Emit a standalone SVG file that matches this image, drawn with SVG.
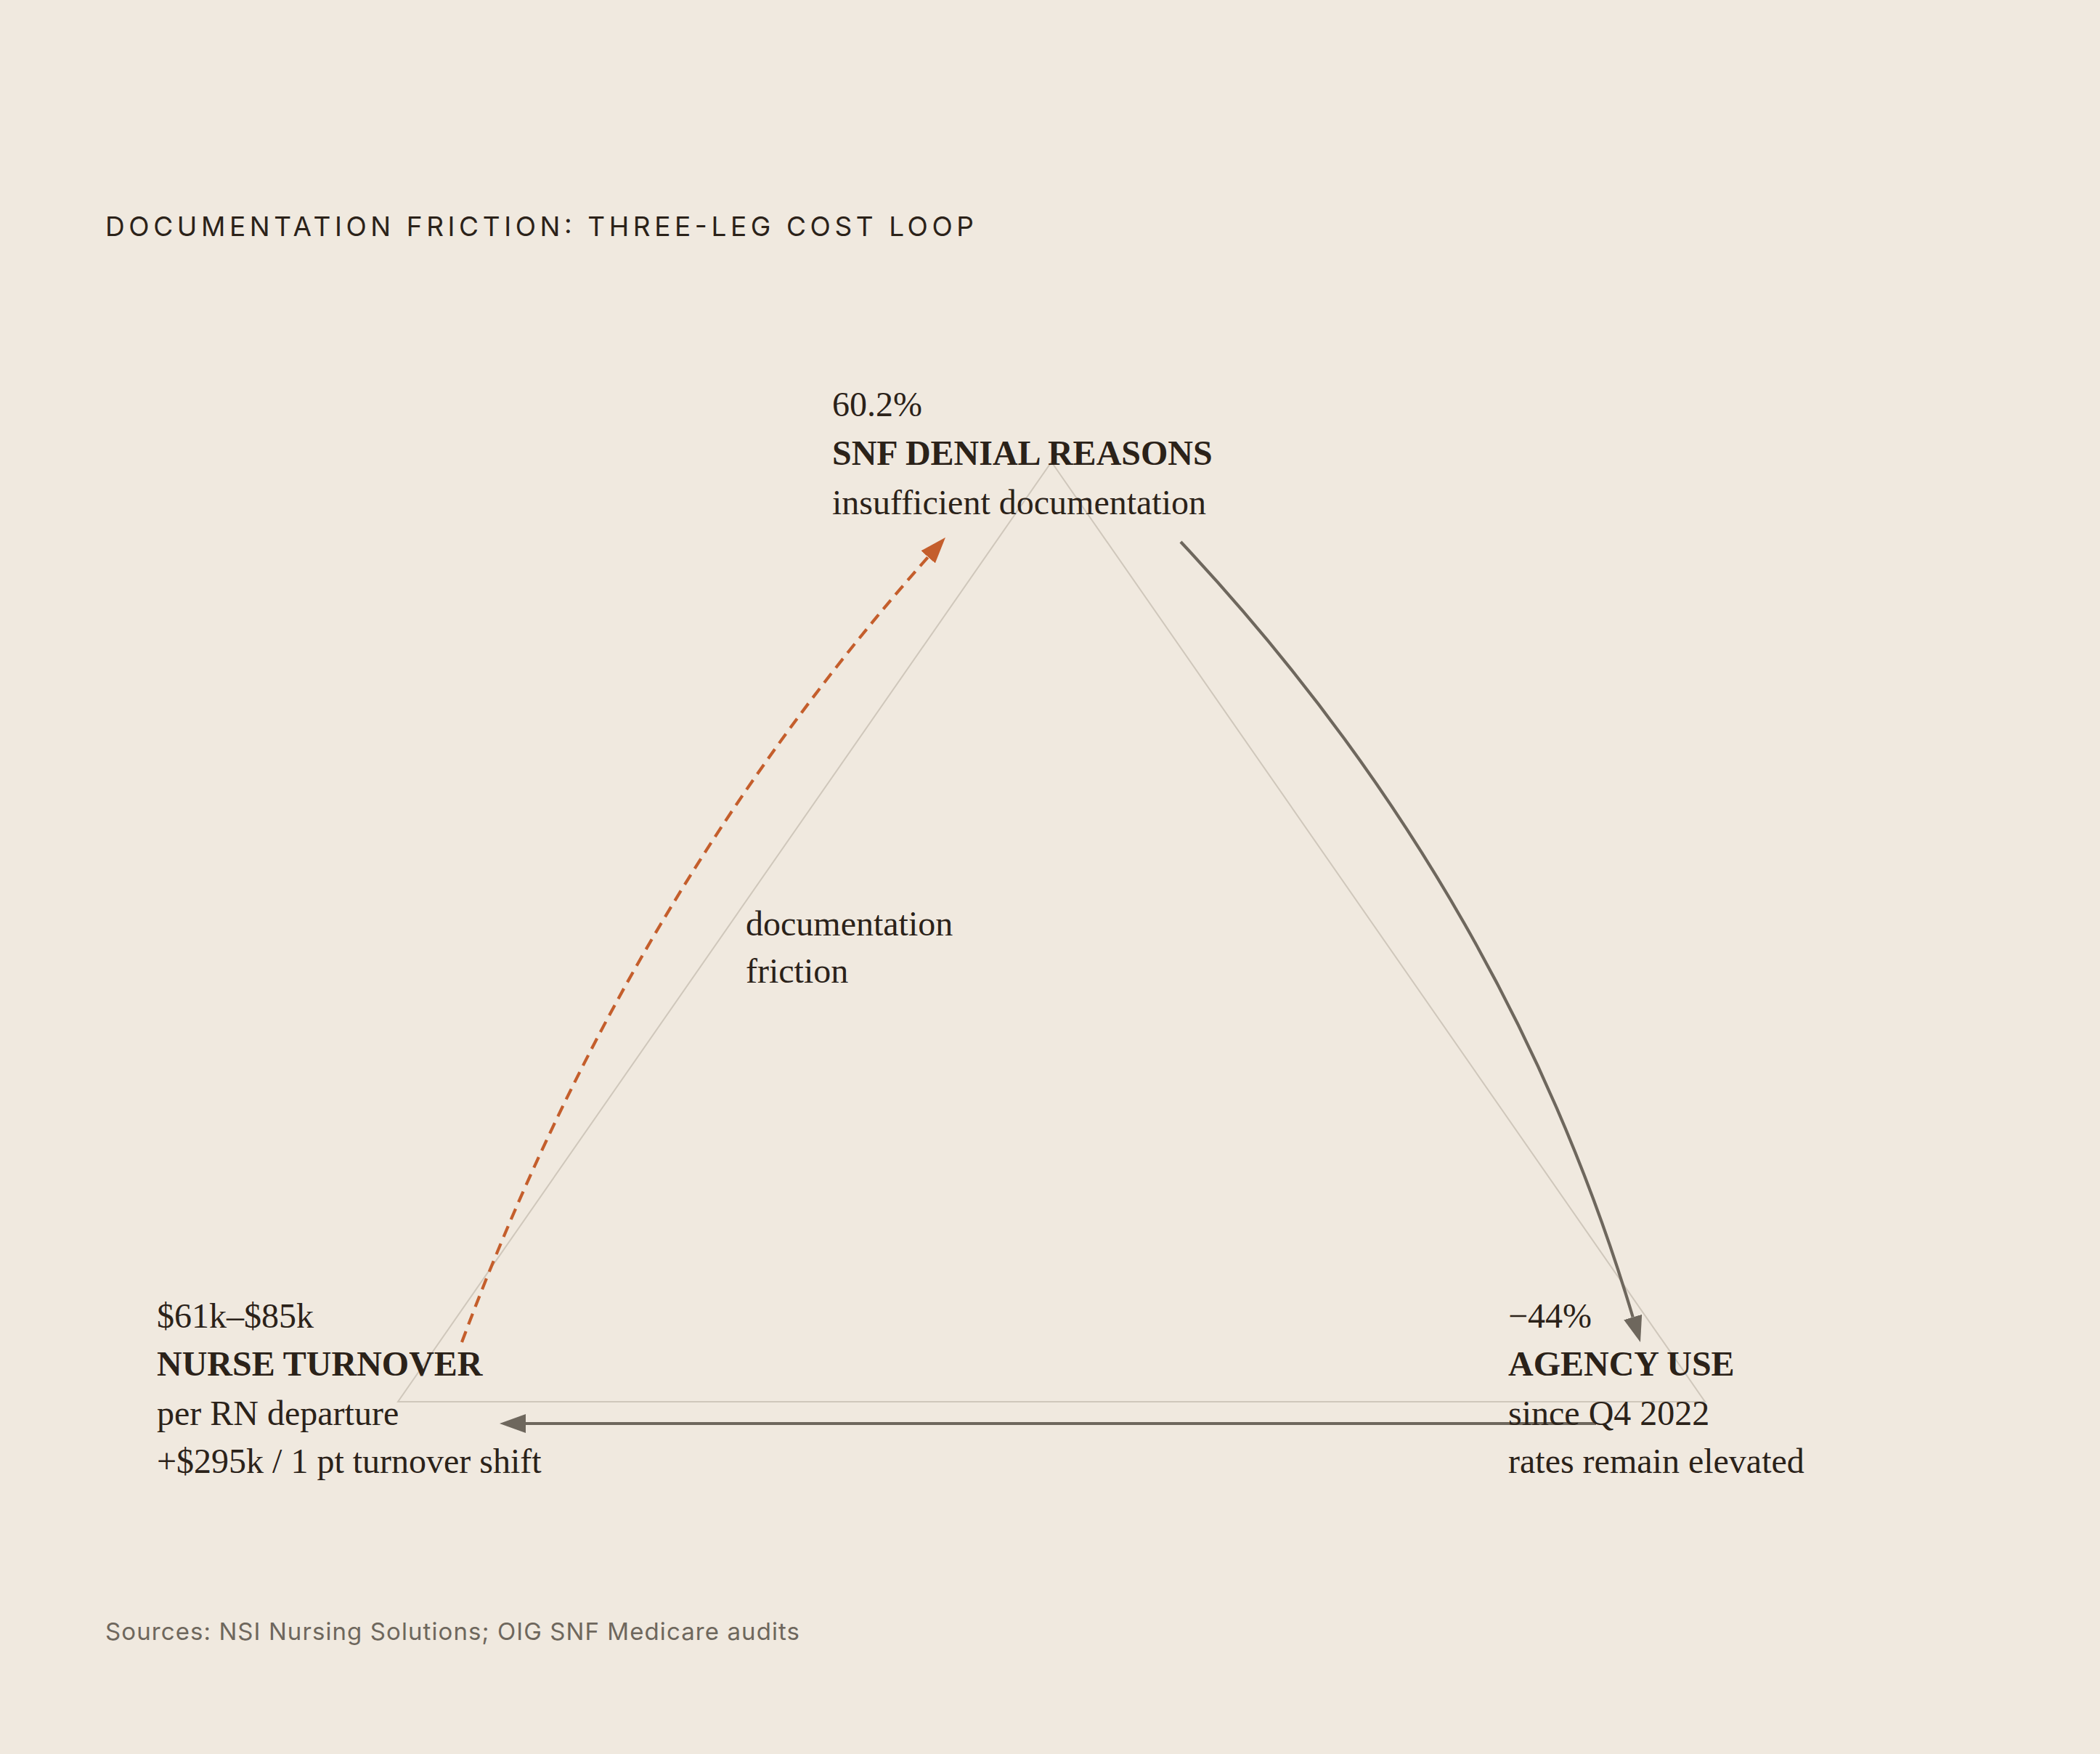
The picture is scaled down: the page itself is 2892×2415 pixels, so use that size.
<svg xmlns="http://www.w3.org/2000/svg" width="2892" height="2415" viewBox="0 0 2892 2415">
<defs>
<style>
.bg{fill:#f0e9df}
.title{font-family:Inter,"Liberation Sans",sans-serif;font-size:37px;fill:#2b2219;font-weight:400}
.src{font-family:Inter,"Liberation Sans",sans-serif;font-size:33px;fill:#6e675d}
.t{font-family:"Liberation Serif","Times New Roman",serif;font-size:48px;fill:#2b2219}
.b{font-weight:700}
.tri{fill:none;stroke:#cfc7bb;stroke-width:2}
.gray{fill:none;stroke:#6e675d;stroke-width:4.2}
.orange{fill:none;stroke:#c45e2c;stroke-width:4.2;stroke-dasharray:16 10}
</style>
<marker id="ahGray" markerUnits="userSpaceOnUse" markerWidth="36" markerHeight="26" refX="0" refY="13" orient="auto" viewBox="0 0 36 26">
<path d="M0,0 L36,13 L0,26 Z" fill="#6e675d"/>
</marker>
<marker id="ahOrange" markerUnits="userSpaceOnUse" markerWidth="36" markerHeight="26" refX="0" refY="13" orient="auto" viewBox="0 0 36 26">
<path d="M0,0 L36,13 L0,26 Z" fill="#c45e2c"/>
</marker>
</defs>
<rect class="bg" x="0" y="0" width="2892" height="2415"/>
<text class="title" x="145" y="325" textLength="1196" lengthAdjust="spacing">DOCUMENTATION FRICTION: THREE-LEG COST LOOP</text>
<g id="frame">
<path class="tri" d="M1448,636 L2348,1930 L548,1930 Z"/>
</g>
<g id="connectors">
<path class="orange" d="M636,1848 Q866,1232 1278.1,766.9" marker-end="url(#ahOrange)"/>
<path class="gray" d="M1626,746 Q2072,1222 2248.7,1813.5" marker-end="url(#ahGray)"/>
<path class="gray" d="M2198,1960 L724,1960" marker-end="url(#ahGray)"/>
<text class="t" x="1027" y="1288">documentation</text>
<text class="t" x="1027" y="1353">friction</text>
</g>
<g id="node-snf">
<text class="t" x="1146" y="573">60.2%</text>
<text class="t b" x="1146" y="640">SNF DENIAL REASONS</text>
<text class="t" x="1146" y="708">insufficient documentation</text>
</g>
<g id="node-nurse">
<text class="t" x="216" y="1828">$61k–$85k</text>
<text class="t b" x="216" y="1894">NURSE TURNOVER</text>
<text class="t" x="216" y="1962">per RN departure</text>
<text class="t" x="216" y="2028">+$295k / 1 pt turnover shift</text>
</g>
<g id="node-agency">
<text class="t" x="2077" y="1828">−44%</text>
<text class="t b" x="2077" y="1894">AGENCY USE</text>
<text class="t" x="2077" y="1962">since Q4 2022</text>
<text class="t" x="2077" y="2028">rates remain elevated</text>
</g>
<text class="src" x="145" y="2258" textLength="956" lengthAdjust="spacing">Sources: NSI Nursing Solutions; OIG SNF Medicare audits</text>
</svg>
